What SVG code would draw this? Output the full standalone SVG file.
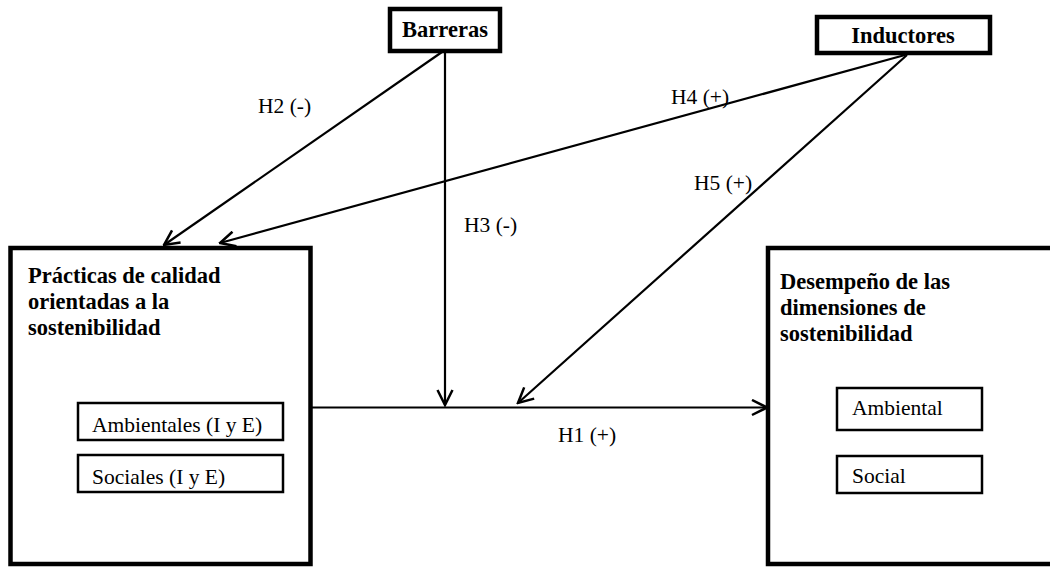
<svg xmlns="http://www.w3.org/2000/svg" width="1050" height="567" viewBox="0 0 1050 567">
  <style>
    .big { fill: #fff; stroke: #000; stroke-width: 4.5; }
    .top { fill: #fff; stroke: #000; stroke-width: 4.5; }
    .small { fill: #fff; stroke: #000; stroke-width: 2.5; }
    .hd { font-family: "Liberation Serif", "Times New Roman", serif; font-weight: bold; font-size: 22.5px; fill: #000; }
    .tx { font-family: "Liberation Serif", "Times New Roman", serif; font-size: 21.5px; fill: #000; }
    .conn { stroke: #000; stroke-width: 2.2; fill: none; marker-end: url(#arr); }
  </style>
  <defs>
    <marker id="arr" markerUnits="userSpaceOnUse" markerWidth="18" markerHeight="18" viewBox="0 0 18 18" refX="16.5" refY="9" orient="auto">
      <path d="M1.5,1.5 L16.5,9 L1.5,16.5" fill="none" stroke="#000" stroke-width="2.5"/>
    </marker>
  </defs>
  <rect width="1050" height="567" fill="#fff"/>

  <g id="connectors">
    <line class="conn" x1="312" y1="407.5" x2="767" y2="407.5"/>
    <line class="conn" x1="445" y1="52" x2="445" y2="405"/>
    <line class="conn" x1="907" y1="55" x2="518" y2="403"/>
    <line class="conn" x1="442" y1="52" x2="164" y2="245"/>
    <line class="conn" x1="905" y1="55" x2="220" y2="243"/>
    <text class="tx" x="258" y="113">H2 (-)</text>
    <text class="tx" x="464" y="232">H3 (-)</text>
    <text class="tx" x="671" y="104">H4 (+)</text>
    <text class="tx" x="694" y="190">H5 (+)</text>
    <text class="tx" x="558" y="442">H1 (+)</text>
  </g>

  <g id="barreras">
    <rect class="top" x="390" y="9" width="110" height="42"/>
    <text class="hd" x="445" y="37" text-anchor="middle">Barreras</text>
  </g>

  <g id="inductores">
    <rect class="top" x="817" y="17" width="173" height="36"/>
    <text class="hd" x="903" y="43" text-anchor="middle">Inductores</text>
  </g>

  <g id="practicas">
    <rect class="big" x="10.5" y="248" width="300" height="316"/>
    <text class="hd" x="28" y="283">Prácticas de calidad</text>
    <text class="hd" x="28" y="309">orientadas a la</text>
    <text class="hd" x="28" y="335">sostenibilidad</text>
  </g>

  <g id="ambientales">
    <rect class="small" x="78" y="403" width="205" height="37"/>
    <text class="tx" x="92" y="432">Ambientales (I y E)</text>
  </g>

  <g id="sociales">
    <rect class="small" x="78" y="455" width="205" height="37"/>
    <text class="tx" x="92" y="484">Sociales (I y E)</text>
  </g>

  <g id="desempeno">
    <rect class="big" x="768" y="248" width="290" height="316"/>
    <text class="hd" x="780" y="289">Desempeño de las</text>
    <text class="hd" x="780" y="315">dimensiones de</text>
    <text class="hd" x="780" y="341">sostenibilidad</text>
  </g>

  <g id="ambiental">
    <rect class="small" x="837" y="388" width="145" height="42"/>
    <text class="tx" x="852" y="415">Ambiental</text>
  </g>

  <g id="social">
    <rect class="small" x="837" y="456" width="145" height="37"/>
    <text class="tx" x="852" y="483">Social</text>
  </g>
</svg>
